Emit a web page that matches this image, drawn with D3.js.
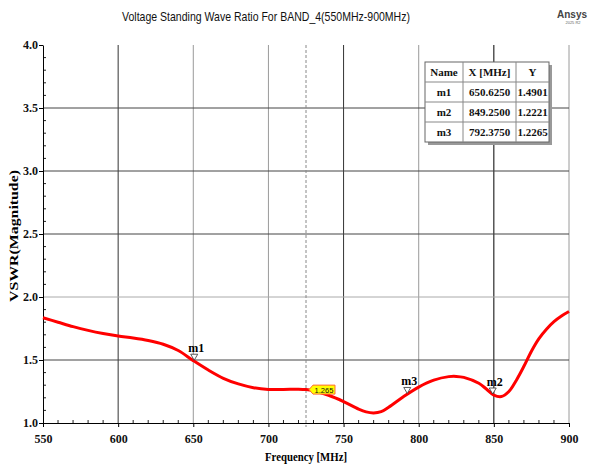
<!DOCTYPE html>
<html lang="en">
  <head>
    <meta charset="utf-8">
    <title>VSWR BAND_4</title>
    <style type="text/css">
      body{
        margin: 0;
        background-color: white;
      }
      svg{
        display: block;
      }
      .tick text{
        font-family: "Liberation Serif", "DejaVu Serif", serif;
        font-weight: bold;
        font-size: 12px;
        fill: #111;
      }
      .tbl{
        font-family: "Liberation Serif", serif;
        font-weight: bold;
        font-size: 11px;
        fill: #111;
      }
    </style>
  </head>
  <body>
    <div id='svg_container'></div>

    <script src="https://d3js.org/d3.v7.min.js"></script>
    <script type="text/javascript">

      // curve
      const freq = [550, 560, 570, 580, 590, 600, 610, 620, 630, 640, 650, 660, 670, 680, 690, 700,
                    710, 720, 725, 730, 740, 750, 760, 765, 770, 775, 780, 790, 800, 810, 820, 825,
                    830, 840, 845, 850, 855, 860, 865, 870, 875, 880, 885, 890, 895, 900];
      const vswr = [1.835, 1.80, 1.765, 1.735, 1.71, 1.69, 1.675, 1.655, 1.625, 1.575, 1.495, 1.42, 1.355, 1.31, 1.28, 1.266,
                    1.266, 1.268, 1.265, 1.255, 1.22, 1.17, 1.11, 1.088, 1.08, 1.09, 1.125, 1.21, 1.285, 1.34, 1.368, 1.37,
                    1.362, 1.315, 1.27, 1.222, 1.21, 1.25, 1.34, 1.45, 1.57, 1.67, 1.745, 1.805, 1.85, 1.885];

      const markerNames = ['m1', 'm2', 'm3'];
      const markerX = [650.625, 849.25, 792.375];
      const markerY = [1.4901, 1.2221, 1.2265];

      const xTicks = [550, 600, 650, 700, 750, 800, 850, 900];
      const yTicks = [1.0, 1.5, 2.0, 2.5, 3.0, 3.5, 4.0];
      const cursorX = 725;
      const cursorVal = '1.265';

      const W = 590, H = 467;
      const m = {left: 43, right: 21, top: 45, bottom: 44};
      const w = W - m.left - m.right;
      const h = H - m.top - m.bottom;

      const svg = d3.select('#svg_container').append('svg').attr('width', W).attr('height', H);
      const g = svg.append('g').attr('transform', 'translate(' + m.left + ',' + m.top + ')');

      const scaleX = d3.scaleLinear().domain([550, 900]).range([0, w]);
      const scaleY = d3.scaleLinear().domain([1, 4]).range([h, 0]);

      // grid lines, some darker than others like the original
      const vCol = {600: '#333', 650: '#9a9a9a', 700: '#9a9a9a', 750: '#333', 800: '#9a9a9a', 850: '#000', 900: '#9a9a9a'};
      const hCol = {1.5: '#444', 2.0: '#aaa', 2.5: '#444', 3.0: '#444', 3.5: '#444'};

      g.selectAll('.vgrid').data(xTicks.slice(1)).enter().append('line')
        .attr('x1', d => scaleX(d)).attr('x2', d => scaleX(d))
        .attr('y1', 0).attr('y2', h)
        .attr('stroke', d => vCol[d]).attr('stroke-width', 1);

      g.selectAll('.hgrid').data(yTicks.slice(1, -1)).enter().append('line')
        .attr('x1', 0).attr('x2', w)
        .attr('y1', d => scaleY(d)).attr('y2', d => scaleY(d))
        .attr('stroke', d => hCol[d]).attr('stroke-width', 1);

      // dashed cursor line
      g.append('line').attr('x1', scaleX(cursorX)).attr('x2', scaleX(cursorX))
        .attr('y1', 0).attr('y2', h + 4)
        .attr('stroke', '#888').attr('stroke-dasharray', '3,2');

      // minor ticks
      const xMinor = d3.range(560, 900, 10).filter(d => d % 50 != 0);
      g.selectAll('.xminor').data(xMinor).enter().append('line')
        .attr('x1', d => scaleX(d)).attr('x2', d => scaleX(d))
        .attr('y1', h).attr('y2', h - 3).attr('stroke', '#222');
      const yMinor = d3.range(1.1, 4.0, 0.1).filter(d => Math.abs(d * 2 - Math.round(d * 2)) > 0.01);
      g.selectAll('.yminor').data(yMinor).enter().append('line')
        .attr('x1', 0).attr('x2', 3)
        .attr('y1', d => scaleY(d)).attr('y2', d => scaleY(d)).attr('stroke', '#222');

      const xAxis = d3.axisBottom(scaleX).tickValues(xTicks).tickSize(4).tickSizeOuter(0).tickFormat(d3.format('d'));
      const yAxis = d3.axisLeft(scaleY).tickValues(yTicks).tickSize(4).tickSizeOuter(0).tickFormat(d3.format('.1f'));

      g.append('g').attr('transform', 'translate(0,' + h + ')').call(xAxis)
        .call(a => a.selectAll('text').attr('dy', '1.05em'));
      g.append('g').call(yAxis)
        .call(a => a.selectAll('text').attr('x', -5));
      svg.selectAll('.domain').attr('stroke', '#000');

      // the curve
      const pts = freq.map((f, i) => [f, vswr[i]]);
      const line = d3.line().x(d => scaleX(d[0])).y(d => scaleY(d[1])).curve(d3.curveCatmullRom.alpha(0.5));
      g.append('path').datum(pts).attr('d', line)
        .attr('fill', 'none').attr('stroke', '#ff0000').attr('stroke-width', 3);

      // markers
      markerNames.forEach(function(n, i){
        const px = scaleX(markerX[i]), py = scaleY(markerY[i]);
        g.append('path')
          .attr('d', 'M' + (px - 3.5) + ',' + (py - 7) + 'L' + (px + 3.5) + ',' + (py - 7) + 'L' + px + ',' + (py - 1) + 'Z')
          .attr('fill', 'white').attr('stroke', '#333').attr('stroke-width', 0.8);
        g.append('text').text(n).attr('x', px + 2).attr('y', py - 9)
          .attr('text-anchor', 'middle')
          .style('font-family', '"Liberation Serif", serif').style('font-weight', 'bold').style('font-size', '12px');
      });

      // yellow cursor value label
      const cx = scaleX(cursorX) + 3, cy = scaleY(1.265);
      g.append('path')
        .attr('d', 'M' + cx + ',' + cy + 'L' + (cx + 4) + ',' + (cy - 4.5) + 'L' + (cx + 26) + ',' + (cy - 4.5)
          + 'L' + (cx + 26) + ',' + (cy + 4.5) + 'L' + (cx + 4) + ',' + (cy + 4.5) + 'Z')
        .attr('fill', '#ffff00').attr('stroke', '#ff6a3a').attr('stroke-width', 1);
      g.append('text').text(cursorVal).attr('x', cx + 15).attr('y', cy + 3)
        .attr('text-anchor', 'middle')
        .style('font-family', '"Liberation Sans", sans-serif').style('font-size', '7.5px').style('fill', '#111');

      // marker table
      const tx = 425, ty = 62, colW = [38, 53, 33], rowH = 20;
      const tw = d3.sum(colW), th = rowH * 4;
      svg.append('rect').attr('x', tx + 3).attr('y', ty + 3).attr('width', tw).attr('height', th).attr('fill', '#999');
      svg.append('rect').attr('x', tx).attr('y', ty).attr('width', tw).attr('height', th)
        .attr('fill', 'white').attr('stroke', '#666').attr('stroke-width', 1);
      let acc = tx;
      colW.slice(0, -1).forEach(function(c){
        acc += c;
        svg.append('line').attr('x1', acc).attr('x2', acc).attr('y1', ty).attr('y2', ty + th).attr('stroke', '#888');
      });
      [1, 2, 3].forEach(function(r){
        svg.append('line').attr('x1', tx).attr('x2', tx + tw).attr('y1', ty + r * rowH).attr('y2', ty + r * rowH).attr('stroke', '#888');
      });
      const rows = [['Name', 'X [MHz]', 'Y']].concat(markerNames.map((n, i) => [n, markerX[i].toFixed(4), markerY[i].toFixed(4)]));
      rows.forEach(function(row, r){
        let x0 = tx;
        row.forEach(function(cell, c){
          svg.append('text').attr('class', 'tbl').text(cell)
            .attr('x', x0 + colW[c] / 2).attr('y', ty + r * rowH + 14).attr('text-anchor', 'middle');
          x0 += colW[c];
        });
      });

      // titles
      svg.append('text').text('Voltage Standing Wave Ratio For BAND_4(550MHz-900MHz)')
        .attr('x', 266).attr('y', 21).attr('text-anchor', 'middle')
        .attr('textLength', 288).attr('lengthAdjust', 'spacingAndGlyphs')
        .style('font-family', '"Liberation Sans", Arial, sans-serif').style('font-size', '13.5px').style('fill', '#111');

      svg.append('text').text('Ansys').attr('x', 572).attr('y', 18).attr('text-anchor', 'middle')
        .style('font-family', '"Liberation Sans", sans-serif').style('font-weight', 'bold').style('font-size', '10px').style('fill', '#444');
      svg.append('text').text('2025 R2').attr('x', 573).attr('y', 24).attr('text-anchor', 'middle')
        .style('font-family', '"Liberation Sans", sans-serif').style('font-size', '4px').style('fill', '#666');

      svg.append('text').text('Frequency [MHz]').attr('x', 306).attr('y', 461).attr('text-anchor', 'middle')
        .attr('textLength', 82).attr('lengthAdjust', 'spacingAndGlyphs')
        .style('font-family', '"Liberation Serif", serif').style('font-weight', 'bold').style('font-size', '13px');

      svg.append('text').text('VSWR(Magnitude)')
        .attr('transform', 'translate(18,236) rotate(-90)').attr('text-anchor', 'middle')
        .attr('textLength', 132).attr('lengthAdjust', 'spacingAndGlyphs')
        .style('font-family', '"Liberation Serif", serif').style('font-weight', 'bold').style('font-size', '12px');

    </script>
  </body>
</html>
